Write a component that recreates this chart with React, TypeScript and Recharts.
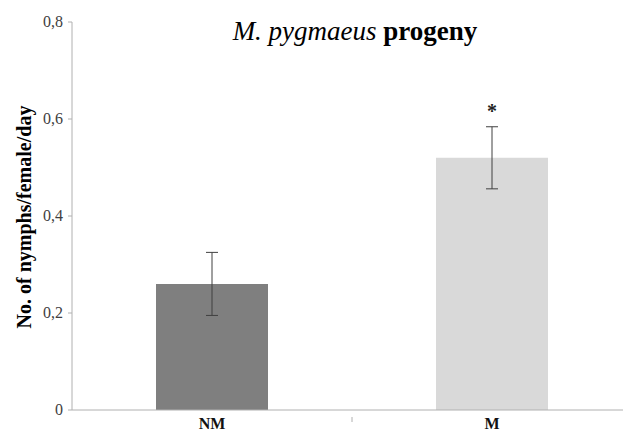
import React from 'react';
import { BarChart, Bar, XAxis, YAxis, ErrorBar, LabelList, Cell } from 'recharts';

const categories = ['NM', 'M'];
const means = [0.26, 0.52];
const errors = [0.065, 0.064];
const signif = ['', '*'];
const yTicks = [0, 0.2, 0.4, 0.6, 0.8];
const barColors = ['#7f7f7f', '#d9d9d9'];

const data = categories.map((name, i) => ({
  name,
  value: means[i],
  err: errors[i],
  sig: signif[i],
}));

const CHART_W = 640;
const CHART_H = 433;
const MARGIN = { top: 22, right: 8, left: 0, bottom: 0 };
const Y_WIDTH = 72;
const FONT = '"Liberation Serif", "Times New Roman", serif';

const plotWidth = CHART_W - MARGIN.left - MARGIN.right - Y_WIDTH;
const band = plotWidth / categories.length;

const XTick = (props: any) => {
  const { x, y, payload, index } = props;
  return (
    <g>
      {index > 0 && (
        <line x1={x - band / 2} x2={x - band / 2} y1={y - 1} y2={y + 4} stroke="#b0b0b0" />
      )}
      <text x={x} y={y + 11} textAnchor="middle" fontFamily={FONT} fontWeight="bold" fontSize={16} fill="#111">
        {payload.value}
      </text>
    </g>
  );
};

const YTick = (props: any) => {
  const { x, y, payload } = props;
  const v = payload.value as number;
  const label = v === 0 ? '0' : v.toFixed(1).replace('.', ',');
  return (
    <text x={x} y={y + 5} textAnchor="end" fontFamily={FONT} fontSize={16} fill="#404040">
      {label}
    </text>
  );
};

const SigLabel = (props: any) => {
  const { x, y, width, value } = props;
  if (!value) return <text />;
  return (
    <text x={x + width / 2} y={y - 40} textAnchor="middle" fontFamily={FONT} fontWeight="bold" fontSize={20} fill="#222">
      {value}
    </text>
  );
};

export default function App() {
  return (
    <div style={{ position: 'absolute', left: 0, top: 0, width: 623, height: CHART_H, overflow: 'hidden', background: '#fff' }}>
      <BarChart width={CHART_W} height={CHART_H} data={data} margin={MARGIN} barCategoryGap="30%">
        <text x={355} y={40} textAnchor="middle" fontFamily={FONT} fontSize={27} fill="#000">
          <tspan fontStyle="italic">M. pygmaeus</tspan>
          <tspan fontWeight="bold"> progeny</tspan>
        </text>
        <text
          x={31}
          y={217}
          textAnchor="middle"
          transform="rotate(-90, 31, 217)"
          fontFamily={FONT}
          fontWeight="bold"
          fontSize={20}
          fill="#000"
        >
          No. of nymphs/female/day
        </text>
        <XAxis
          dataKey="name"
          height={23}
          axisLine={{ stroke: '#b0b0b0' }}
          tickLine={false}
          tick={<XTick />}
          interval={0}
        />
        <YAxis
          width={Y_WIDTH}
          domain={[0, 0.8]}
          ticks={yTicks}
          axisLine={{ stroke: '#b0b0b0' }}
          tickLine={{ stroke: '#b0b0b0' }}
          tickSize={4}
          tickMargin={5}
          tick={<YTick />}
        />
        <Bar dataKey="value" isAnimationActive={false}>
          {data.map((d, i) => (
            <Cell key={d.name} fill={barColors[i]} />
          ))}
          <ErrorBar dataKey="err" width={6} stroke="#404040" strokeWidth={1} />
          <LabelList dataKey="sig" content={<SigLabel />} />
        </Bar>
      </BarChart>
    </div>
  );
}
